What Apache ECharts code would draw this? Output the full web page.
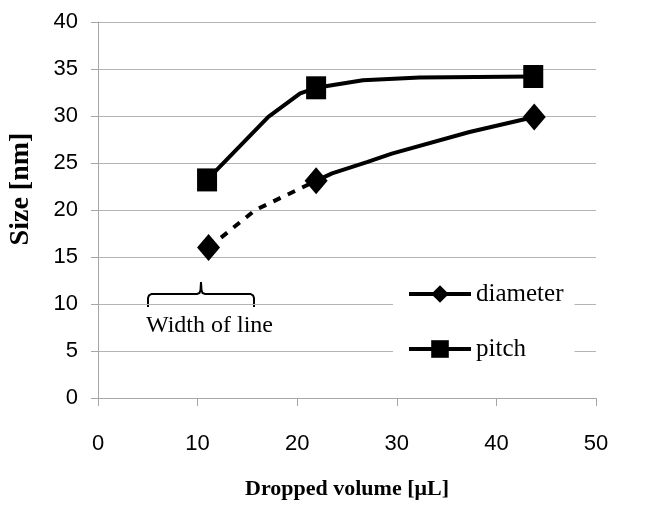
<!DOCTYPE html>
<html>
<head>
<meta charset="utf-8">
<script src="https://cdn.jsdelivr.net/npm/echarts@6/dist/echarts.min.js"></script>
<style>
  html, body { margin: 0; padding: 0; background: #fff; }
  #main { width: 657px; height: 505px; }
</style>
</head>
<body>
<div id="main"></div>
<script>
var myChart = echarts.init(document.getElementById('main'));

// values (x in µL against the axis, y in nm)
const xTicks = [0, 10, 20, 30, 40, 50];
const yTicks = [0, 5, 10, 15, 20, 25, 30, 35, 40];

// pitch: measured points plus the bends of the drawn curve (mark = 1 -> marker)
const pitchX = [10.95, 17.1, 20.3, 21.9, 26.6, 32.3, 43.7];
const pitchY = [23.2, 29.9, 32.4, 33.0, 33.8, 34.1, 34.2];
const pitchMark = [1, 0, 0, 1, 0, 0, 1];

// diameter, dashed part (first point to second measured point)
const diamDashX = [11.1, 15.8, 21.9];
const diamDashY = [16.0, 20.0, 23.1];
const diamDashMark = [1, 0, 0];

// diameter, solid part
const diamX = [21.9, 23.5, 27.0, 29.5, 37.3, 43.8];
const diamY = [23.1, 23.9, 25.1, 26.0, 28.3, 29.9];
const diamMark = [1, 0, 0, 0, 0, 1];

function build(xs, ys, marks) {
    return xs.map(function (x, i) {
        let item = {value: [x, ys[i]]};
        if (!marks[i]) item.symbol = 'none';
        return item;
    });
}

const axisGrey = '#a6a6a6';
const gridGrey = '#b4b4b4';

let option = {
    animation: false,
    backgroundColor: '#fff',
    grid: {left: 98, right: 61, top: 22, bottom: 107, containLabel: false},
    xAxis: {
        type: 'value',
        min: xTicks[0],
        max: xTicks[xTicks.length - 1],
        interval: 10,
        name: 'Dropped volume [μL]',
        nameLocation: 'middle',
        nameGap: 80,
        nameTextStyle: {fontFamily: 'Liberation Serif', fontWeight: 'bold', fontSize: 22, color: '#000'},
        axisLine: {lineStyle: {color: axisGrey, width: 1}},
        axisTick: {show: true, length: 8, lineStyle: {color: axisGrey}},
        axisLabel: {fontFamily: 'Liberation Sans', fontSize: 22, color: '#000', margin: 35},
        splitLine: {show: false}
    },
    yAxis: {
        type: 'value',
        min: yTicks[0],
        max: yTicks[yTicks.length - 1],
        interval: 5,
        axisLine: {show: true, lineStyle: {color: axisGrey, width: 1}},
        axisTick: {show: true, length: 7, lineStyle: {color: axisGrey}},
        axisLabel: {fontFamily: 'Liberation Sans', fontSize: 22, color: '#000', margin: 20},
        splitLine: {lineStyle: {color: gridGrey, width: 1}}
    },
    legend: {
        data: ['diameter', 'pitch'],
        orient: 'vertical',
        left: 393,
        top: 271,
        padding: [10, 11, 10, 14],
        backgroundColor: '#fff',
        itemWidth: 62,
        itemHeight: 22,
        itemGap: 29,
        lineStyle: {width: 4, color: '#000'},
        textStyle: {fontFamily: 'Liberation Serif', fontSize: 25, color: '#000', lineHeight: 26},
        selectedMode: false
    },
    series: [
        {
            name: 'diameter-dash',
            type: 'line',
            data: build(diamDashX, diamDashY, diamDashMark),
            symbol: 'diamond',
            symbolSize: [23, 27],
            itemStyle: {color: '#000'},
            lineStyle: {color: '#000', width: 4, type: [8, 8]},
            z: 2
        },
        {
            name: 'diameter',
            type: 'line',
            data: build(diamX, diamY, diamMark),
            symbol: 'diamond',
            symbolSize: [23, 27],
            itemStyle: {color: '#000'},
            lineStyle: {color: '#000', width: 4},
            z: 3
        },
        {
            name: 'pitch',
            type: 'line',
            data: build(pitchX, pitchY, pitchMark),
            symbol: 'rect',
            symbolSize: [20, 23],
            itemStyle: {color: '#000'},
            lineStyle: {color: '#000', width: 4},
            z: 3
        }
    ],
    graphic: [
        {
            type: 'text',
            x: 21,
            y: 189,
            rotation: Math.PI / 2,
            style: {
                text: 'Size [nm]',
                font: 'bold 28px "Liberation Serif"',
                fill: '#000',
                align: 'center',
                verticalAlign: 'middle'
            }
        },
        {
            type: 'text',
            x: 146,
            y: 326,
            style: {
                text: 'Width of line',
                font: '24px "Liberation Serif"',
                fill: '#000',
                align: 'left',
                verticalAlign: 'middle'
            }
        },
        {
            type: 'polyline',
            shape: {
                points: [[148, 307], [148, 298], [149, 295.5], [151.5, 294], [197, 294], [199.5, 293], [200.5, 290],
                         [201, 282], [201.5, 290], [202.5, 293], [205, 294], [250.5, 294], [253, 295.5],
                         [254, 298], [254, 307]]
            },
            style: {stroke: '#000', lineWidth: 2, fill: null}
        }
    ]
};

myChart.setOption(option);
</script>
</body>
</html>
